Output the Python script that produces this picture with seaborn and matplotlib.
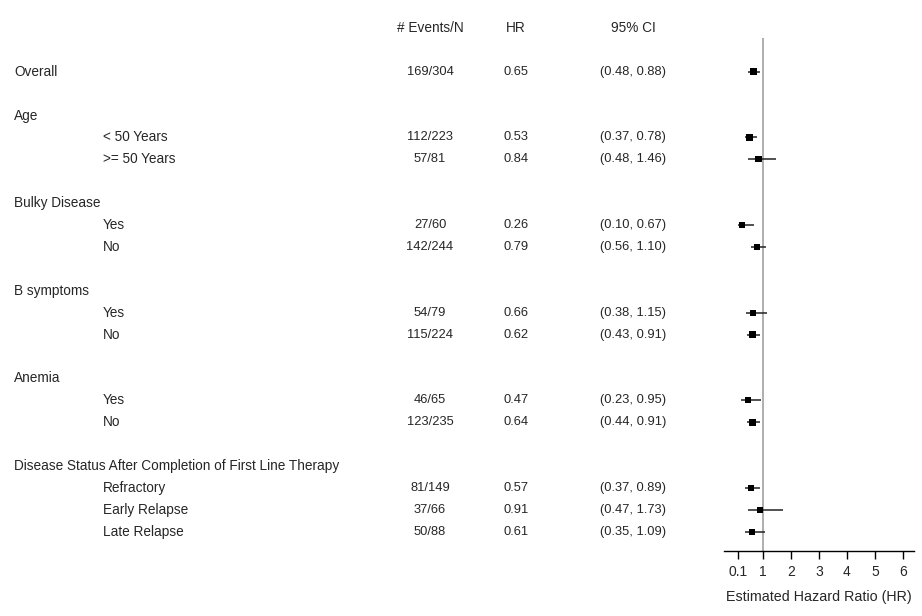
import numpy as np
import pandas as pd
import matplotlib
matplotlib.use("Agg")
import matplotlib.pyplot as plt
import seaborn as sns
from matplotlib.transforms import blended_transform_factory

# Subgroup table
groups = ["Overall", "Age", "Bulky Disease", "B symptoms", "Anemia",
          "Disease Status After Completion of First Line Therapy"]
subgroups = [[], ["< 50 Years", ">= 50 Years"], ["Yes", "No"], ["Yes", "No"],
             ["Yes", "No"], ["Refractory", "Early Relapse", "Late Relapse"]]
events = [169, 112, 57, 27, 142, 54, 115, 46, 123, 81, 37, 50]
totals = [304, 223, 81, 60, 244, 79, 224, 65, 235, 149, 66, 88]
hr = [0.65, 0.53, 0.84, 0.26, 0.79, 0.66, 0.62, 0.47, 0.64, 0.57, 0.91, 0.61]
ci_low = [0.48, 0.37, 0.48, 0.10, 0.56, 0.38, 0.43, 0.23, 0.44, 0.37, 0.47, 0.35]
ci_high = [0.88, 0.78, 1.46, 0.67, 1.10, 1.15, 0.91, 0.95, 0.91, 0.89, 1.73, 1.09]
x_ticks = [0.1, 1, 2, 3, 4, 5, 6]
x_ticklabels = ["0.1", "1", "2", "3", "4", "5", "6"]
headers = ["# Events/N", "HR", "95% CI"]

# Lay out table rows: header on row 0, blank line between groups
label_rows = []   # (row, text, is_group)
est_rows = []     # row for each estimate
r = 2
for g, subs in zip(groups, subgroups):
    label_rows.append((r, g, True))
    if not subs:
        est_rows.append(r)
        r += 2
    else:
        for s in subs:
            r += 1
            label_rows.append((r, s, False))
            est_rows.append(r)
        r += 2

df = pd.DataFrame({"row": est_rows, "events": events, "n": totals,
                   "hr": hr, "lo": ci_low, "hi": ci_high})

sns.set_theme(style="white")
plt.rcParams["font.family"] = ["Liberation Sans", "DejaVu Sans"]

fig = plt.figure(figsize=(9.22, 6.16), dpi=100)
fig.patch.set_facecolor("white")
ax = fig.add_axes([724 / 922, 65 / 616, 190 / 922, 513 / 616])

# reference line at HR = 1
ax.axvline(1, color="#a8a8a8", lw=1.3, zorder=1)

# confidence intervals
ax.hlines(df["row"], df["lo"], df["hi"], color="#222222", lw=1.1, zorder=2)

# point estimates, square size grows with N
df["msize"] = 13 + 13 * np.sqrt(df["n"] / df["n"].max())
sns.scatterplot(data=df, x="hr", y="row", marker="s", color="black",
                size="msize", sizes=(df["msize"].min(), df["msize"].max()),
                edgecolor="black", linewidth=0, legend=False, ax=ax, zorder=3)

ax.set_xlim(-0.39, 6.4)
ax.set_ylim(23.88, 0.46)
ax.set_yticks([])
ax.set_ylabel("")
ax.set_xticks(x_ticks)
ax.set_xticklabels(x_ticklabels)
ax.tick_params(axis="x", direction="out", length=6, width=1, color="black",
               labelsize=10, pad=4, bottom=True)
ax.set_xlabel("Estimated Hazard Ratio (HR)", fontsize=10.3, labelpad=8)
for side in ["left", "top", "right"]:
    ax.spines[side].set_visible(False)
ax.spines["bottom"].set_color("black")
ax.spines["bottom"].set_linewidth(1)
ax.set_facecolor("white")

# text columns (x in figure fraction, y in row units)
tr = blended_transform_factory(fig.transFigure, ax.transData)
fs_label = 9.8
fs_num = 9.3
x_group, x_sub = 14 / 922, 103 / 922
x_ev, x_hr, x_ci = 430 / 922, 516 / 922, 633 / 922

for xh, h in zip([x_ev, x_hr, x_ci], headers):
    ax.text(xh, 0, h, transform=tr, ha="center", va="center",
            fontsize=fs_label, clip_on=False)

for row, txt, is_group in label_rows:
    ax.text(x_group if is_group else x_sub, row, txt, transform=tr,
            ha="left", va="center", fontsize=fs_label, clip_on=False)

for _, d in df.iterrows():
    ax.text(x_ev, d["row"], f"{int(d['events'])}/{int(d['n'])}", transform=tr,
            ha="center", va="center", fontsize=fs_num, clip_on=False)
    ax.text(x_hr, d["row"], f"{d['hr']:.2f}", transform=tr,
            ha="center", va="center", fontsize=fs_num, clip_on=False)
    ax.text(x_ci, d["row"], f"({d['lo']:.2f}, {d['hi']:.2f})", transform=tr,
            ha="center", va="center", fontsize=fs_num, clip_on=False)

fig.savefig("out.png", dpi=100, facecolor="white")
